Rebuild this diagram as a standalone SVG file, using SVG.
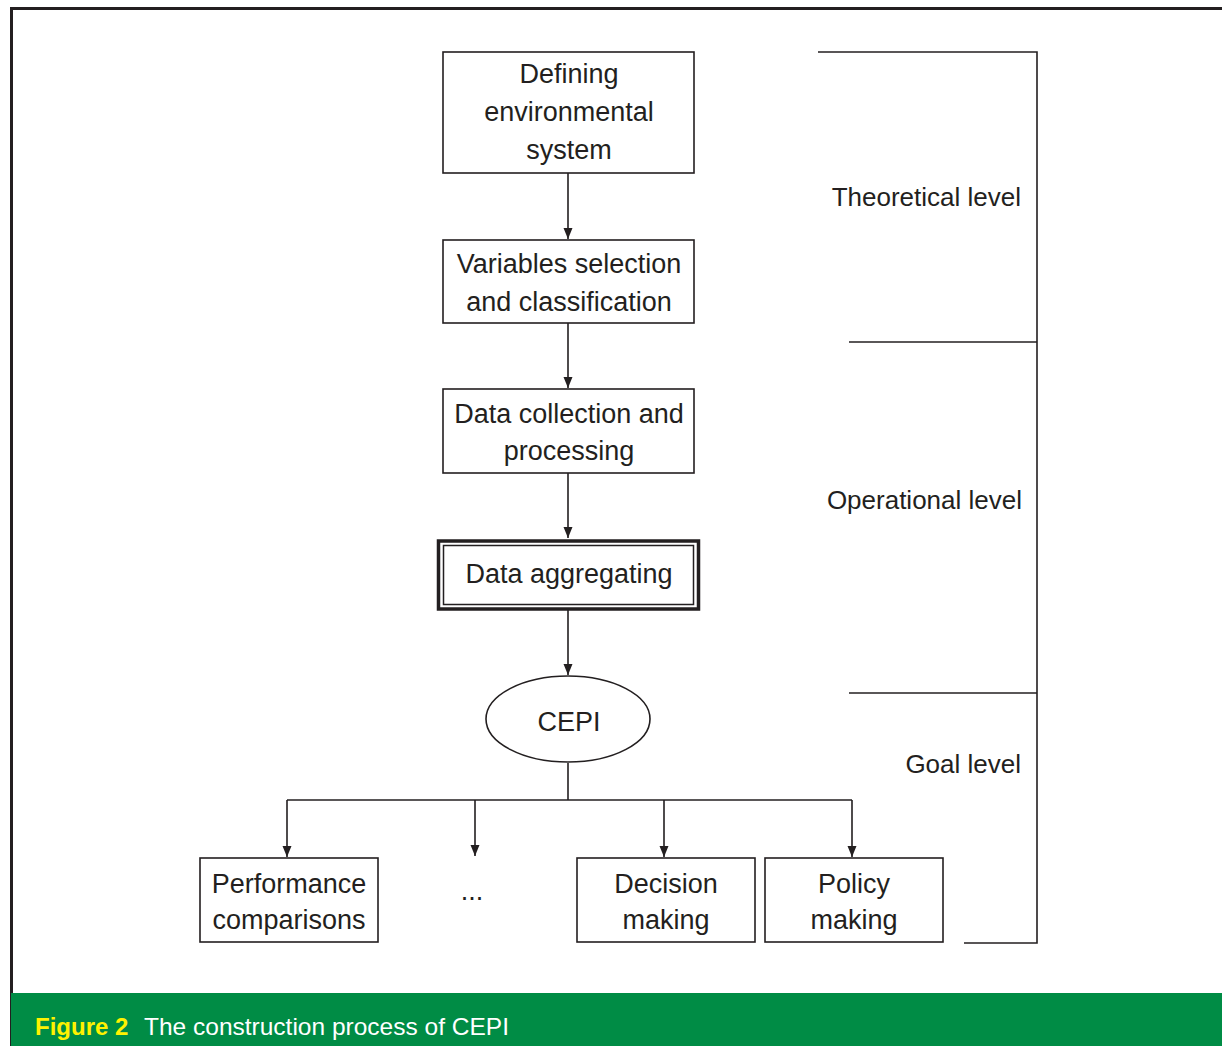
<svg xmlns="http://www.w3.org/2000/svg" width="1222" height="1046" viewBox="0 0 1222 1046">
<style>
.box{fill:#fff;stroke:#231f20;stroke-width:1.6}
.ln{fill:none;stroke:#231f20;stroke-width:1.6}
.t{font-family:"Liberation Sans",Arial,sans-serif;font-size:27px;fill:#231f20;text-anchor:middle}
.lv{font-family:"Liberation Sans",Arial,sans-serif;font-size:26px;fill:#231f20;text-anchor:end}
</style>
<defs>
<marker id="ah" markerWidth="12" markerHeight="12" refX="11" refY="6" orient="auto" markerUnits="userSpaceOnUse">
<path d="M0,1.5 L11,6 L0,10.5 Z" fill="#231f20"/>
</marker>
</defs>
<rect x="0" y="0" width="1222" height="1046" fill="#fff"/>
<path d="M1222,8.5 H11.5 V1046" fill="none" stroke="#231f20" stroke-width="3"/>
<rect x="11" y="993" width="1211" height="53" fill="#008c45"/>
<text x="35" y="1035" font-family="'Liberation Sans',Arial,sans-serif" font-size="24" font-weight="bold" fill="#fff200">Figure 2</text>
<text x="144" y="1035" font-family="'Liberation Sans',Arial,sans-serif" font-size="24.5" fill="#fff">The construction process of CEPI</text>

<g id="connectors">
<line class="ln" x1="568" y1="173" x2="568" y2="239" marker-end="url(#ah)"/>
<line class="ln" x1="568" y1="323" x2="568" y2="388" marker-end="url(#ah)"/>
<line class="ln" x1="568" y1="473" x2="568" y2="538" marker-end="url(#ah)"/>
<line class="ln" x1="568" y1="610" x2="568" y2="675" marker-end="url(#ah)"/>
<line class="ln" x1="568" y1="763" x2="568" y2="800"/>
<line class="ln" x1="287" y1="800" x2="852" y2="800"/>
<line class="ln" x1="287" y1="800" x2="287" y2="857" marker-end="url(#ah)"/>
<line class="ln" x1="475" y1="800" x2="475" y2="856" marker-end="url(#ah)"/>
<line class="ln" x1="664" y1="800" x2="664" y2="857" marker-end="url(#ah)"/>
<line class="ln" x1="852" y1="800" x2="852" y2="857" marker-end="url(#ah)"/>
</g>

<g id="levels">
<path class="ln" d="M818,52 H1037 V943 H964"/>
<line class="ln" x1="849" y1="342" x2="1037" y2="342"/>
<line class="ln" x1="849" y1="693" x2="1037" y2="693"/>
<text class="lv" x="1021" y="206">Theoretical level</text>
<text class="lv" x="1022" y="509">Operational level</text>
<text class="lv" x="1021" y="773">Goal level</text>
</g>

<g id="n1">
<rect class="box" x="443" y="52" width="251" height="121"/>
<text class="t" x="569" y="83">Defining</text>
<text class="t" x="569" y="121">environmental</text>
<text class="t" x="569" y="159">system</text>
</g>
<g id="n2">
<rect class="box" x="443" y="240" width="251" height="83"/>
<text class="t" x="569" y="273">Variables selection</text>
<text class="t" x="569" y="311">and classification</text>
</g>
<g id="n3">
<rect class="box" x="443" y="389" width="251" height="84"/>
<text class="t" x="569" y="423">Data collection and</text>
<text class="t" x="569" y="460">processing</text>
</g>
<g id="n4">
<rect x="438.5" y="541" width="260" height="68" fill="#fff" stroke="#231f20" stroke-width="3.5"/>
<rect x="443.5" y="545.5" width="250" height="59" fill="none" stroke="#231f20" stroke-width="1.5"/>
<text class="t" x="569" y="583">Data aggregating</text>
</g>
<g id="n5">
<ellipse class="box" cx="568" cy="719" rx="82" ry="43"/>
<text class="t" x="569" y="731">CEPI</text>
</g>
<g id="n6">
<rect class="box" x="200" y="858" width="178" height="84"/>
<text class="t" x="289" y="893">Performance</text>
<text class="t" x="289" y="929">comparisons</text>
</g>
<g id="n7">
<text class="t" x="472" y="900">...</text>
</g>
<g id="n8">
<rect class="box" x="577" y="858" width="178" height="84"/>
<text class="t" x="666" y="893">Decision</text>
<text class="t" x="666" y="929">making</text>
</g>
<g id="n9">
<rect class="box" x="765" y="858" width="178" height="84"/>
<text class="t" x="854" y="893">Policy</text>
<text class="t" x="854" y="929">making</text>
</g>
</svg>
